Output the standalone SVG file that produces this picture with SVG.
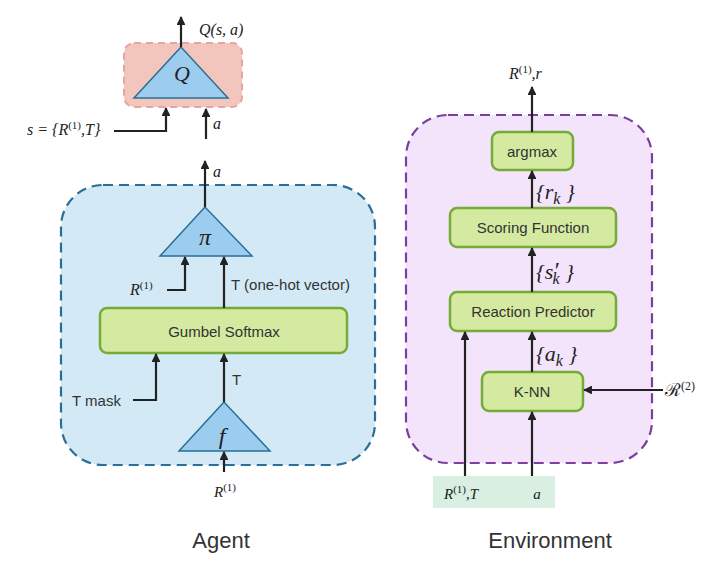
<svg xmlns="http://www.w3.org/2000/svg" width="721" height="578" viewBox="0 0 721 578">
<defs>
<marker id="ah" viewBox="0 0 10 10" refX="9" refY="5" markerWidth="4" markerHeight="4" orient="auto"><path d="M0,0 L10,5 L0,10 z" fill="#222"/></marker>
<style>
.ln{fill:none;stroke:#222;stroke-width:2.2;marker-end:url(#ah)}
.tri{fill:#9ccdee;stroke:#2a6f96;stroke-width:1.5}
.gb{fill:#d4eaa0;stroke:#76ab3a;stroke-width:2.5}
.m{font-family:"Liberation Serif",serif;font-style:italic;fill:#222}
.s{font-family:"Liberation Serif",serif;font-style:normal}
.t{font-family:"Liberation Sans",Arial,sans-serif;fill:#333}
</style>
</defs>
<rect width="721" height="578" fill="#fff"/>
<g id="agent">
<rect x="61" y="185" width="314" height="280" rx="42" fill="#d3eaf6" stroke="#2d6e95" stroke-width="2.2" stroke-dasharray="10,6"/>
</g>
<g id="env">
<rect x="406" y="115" width="246" height="348" rx="42" fill="#f4e4fb" stroke="#7a3f9f" stroke-width="2.2" stroke-dasharray="10,6"/>
</g>
<g id="qbox">
<rect x="124" y="43" width="118" height="64" rx="10" fill="#f2c6bd" stroke="#e8a3a3" stroke-width="2" stroke-dasharray="7,5"/>
<polygon class="tri" points="181,47 134,98 228,98"/>
<text class="m" x="182" y="81" font-size="22" text-anchor="middle">Q</text>
</g>
<g id="pi">
<polygon class="tri" points="205,207 160,256 252,256"/>
<text class="m" x="205" y="245" font-size="24" text-anchor="middle">π</text>
</g>
<g id="gumbel">
<rect class="gb" x="100" y="308" width="247" height="45" rx="7"/>
<text class="t" x="224" y="337" font-size="15" text-anchor="middle">Gumbel Softmax</text>
</g>
<g id="f">
<polygon class="tri" points="224,402 179,451 270,451"/>
<text class="m" x="222" y="444" font-size="24" text-anchor="middle">f</text>
</g>
<g id="argmax">
<rect class="gb" x="492" y="132" width="81" height="38" rx="7"/>
<text class="t" x="532" y="157" font-size="15" text-anchor="middle">argmax</text>
</g>
<g id="scoring">
<rect class="gb" x="450" y="208" width="166" height="39" rx="7"/>
<text class="t" x="533" y="233" font-size="15" text-anchor="middle">Scoring Function</text>
</g>
<g id="reaction">
<rect class="gb" x="450" y="292" width="166" height="39" rx="7"/>
<text class="t" x="533" y="317" font-size="15" text-anchor="middle">Reaction Predictor</text>
</g>
<g id="knn">
<rect class="gb" x="482" y="372" width="101" height="39" rx="7"/>
<text class="t" x="532" y="397" font-size="15" text-anchor="middle">K-NN</text>
</g>
<g id="input">
<rect x="433" y="476" width="122" height="32" fill="#d8efe2"/>
<text class="m" x="444" y="499" font-size="15">R<tspan class="s" font-size="11" dy="-6">(1)</tspan><tspan dy="6">,T</tspan></text>
<text class="m" x="537" y="499" font-size="15" text-anchor="middle">a</text>
</g>
<g id="connectors">
<line class="ln" x1="181" y1="47" x2="181" y2="17"/>
<polyline class="ln" points="114,131 166,131 166,108"/>
<line class="ln" x1="206" y1="139" x2="206" y2="109"/>
<line class="ln" x1="205" y1="207" x2="205" y2="161"/>
<polyline class="ln" points="167,290 185,290 185,257"/>
<line class="ln" x1="224" y1="308" x2="224" y2="257"/>
<polyline class="ln" points="133,400 156,400 156,354"/>
<line class="ln" x1="224" y1="402" x2="224" y2="354"/>
<line class="ln" x1="224" y1="472" x2="224" y2="452"/>
<line class="ln" x1="532" y1="132" x2="532" y2="87"/>
<line class="ln" x1="532" y1="208" x2="532" y2="171"/>
<line class="ln" x1="532" y1="292" x2="532" y2="248"/>
<line class="ln" x1="532" y1="372" x2="532" y2="332"/>
<line class="ln" x1="663" y1="390" x2="584" y2="390"/>
<line class="ln" x1="532" y1="476" x2="532" y2="412"/>
<line class="ln" x1="465" y1="476" x2="465" y2="332"/>
</g>
<g id="labels">
<text class="m" x="199" y="35" font-size="16">Q(s, a)</text>
<text class="m" x="27" y="135" font-size="16">s = {R<tspan class="s" font-size="11" dy="-6">(1)</tspan><tspan dy="6">,T}</tspan></text>
<text class="m" x="213" y="129" font-size="16">a</text>
<text class="m" x="213" y="177" font-size="16">a</text>
<text class="m" x="130" y="295" font-size="16">R<tspan class="s" font-size="11" dy="-6">(1)</tspan></text>
<text class="t" x="231" y="290" font-size="15">T (one-hot vector)</text>
<text class="t" x="232" y="385" font-size="15">T</text>
<text class="t" x="72" y="406" font-size="15">T mask</text>
<text class="m" x="214" y="497" font-size="15">R<tspan class="s" font-size="11" dy="-6">(1)</tspan></text>
<text class="t" x="221" y="548" font-size="22" text-anchor="middle" fill="#111">Agent</text>
<text class="t" x="550" y="548" font-size="22" text-anchor="middle" fill="#111">Environment</text>
<text class="m" x="509" y="79" font-size="16">R<tspan class="s" font-size="11" dy="-6">(1)</tspan><tspan dy="6">,r</tspan></text>
<text class="m" x="536" y="199" font-size="22">{r<tspan font-size="16" dy="5">k</tspan><tspan dy="-5"> }</tspan></text>
<text class="m" x="536" y="279" font-size="22">{s<tspan font-size="24" dy="-1">′</tspan><tspan font-size="16" dx="-6" dy="6">k</tspan><tspan dy="-5"> }</tspan></text>
<text class="m" x="536" y="361" font-size="22">{a<tspan font-size="16" dy="5">k</tspan><tspan dy="-5"> }</tspan></text>
<text x="665" y="396" font-size="18" font-family="DejaVu Serif,serif" fill="#222">ℛ<tspan font-family="Liberation Serif,serif" font-size="12" dy="-6">(2)</tspan></text>
</g>
</svg>
